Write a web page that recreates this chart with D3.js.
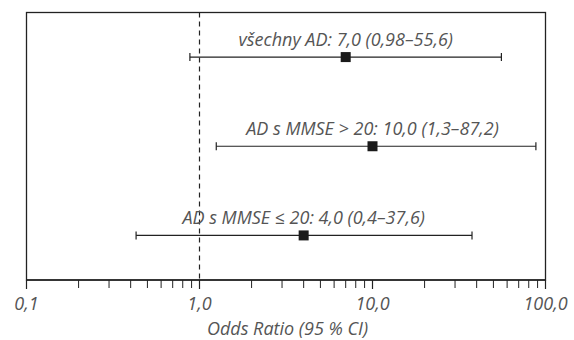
<!DOCTYPE html>
<html>
<head>
<meta charset="utf-8">
<script src="https://cdn.jsdelivr.net/npm/d3@7"></script>
<style>
    body { margin: 0; background: #fff; }
    text { font-family: "Open Sans", sans-serif; font-style: italic; fill: #555; }
</style>
</head>
<body>
<svg width="574" height="340"></svg>
<script>
// data
var groups = ["všechny AD", "AD s MMSE > 20", "AD s MMSE ≤ 20"];
var labels = ["všechny AD: 7,0 (0,98–55,6)", "AD s MMSE > 20: 10,0 (1,3–87,2)", "AD s MMSE ≤ 20: 4,0 (0,4–37,6)"];
var odds = [7.0, 10.0, 4.0];
var lower = [0.88, 1.25, 0.43];
var upper = [55.6, 88.0, 37.6];
var tickValues = [0.1, 1, 10, 100];
var tickLabels = ["0,1", "1,0", "10,0", "100,0"];

var margin = { top: 12.5, right: 28.5, bottom: 60, left: 26.5 },
    width = 574 - margin.left - margin.right,
    height = 340 - margin.top - margin.bottom;

var svg = d3.select("svg")
    .append("g")
    .attr("transform", "translate(" + margin.left + "," + margin.top + ")");

var x = d3.scaleLog().domain([0.1, 100]).range([0, width]);
var y = d3.scaleBand().domain(groups).range([0, height]);

// minor ticks
var minor = [];
[0.1, 1, 10].forEach(function(d) {
    for (var k = 2; k <= 9; k++) minor.push(d * k);
});

var data = groups.map(function(g, i) {
    return { group: g, label: labels[i], or: odds[i], lo: lower[i], hi: upper[i] };
});

// frame
svg.append("rect")
    .attr("width", width)
    .attr("height", height)
    .style("fill", "none")
    .style("stroke", "#222")
    .style("stroke-width", 1.3);

// reference line at OR = 1
svg.append("line")
    .attr("x1", x(1)).attr("x2", x(1))
    .attr("y1", 0).attr("y2", height)
    .style("stroke", "#222")
    .style("stroke-width", 1.2)
    .style("stroke-dasharray", "5,4");

// x axis
var axis = svg.append("g")
    .attr("transform", "translate(0," + height + ")");

axis.append("line")
    .attr("x1", 0).attr("x2", width)
    .style("stroke", "#222")
    .style("stroke-width", 1.3);

axis.selectAll(".minor")
    .data(minor)
    .enter().append("line")
    .attr("class", "minor")
    .attr("x1", function(d) { return x(d); })
    .attr("x2", function(d) { return x(d); })
    .attr("y1", 0).attr("y2", 8)
    .style("stroke", "#222")
    .style("stroke-width", 1);

axis.selectAll(".major")
    .data(tickValues)
    .enter().append("line")
    .attr("class", "major")
    .attr("x1", function(d) { return x(d); })
    .attr("x2", function(d) { return x(d); })
    .attr("y1", 0).attr("y2", 9)
    .style("stroke", "#222")
    .style("stroke-width", 1.2);

axis.selectAll(".tlabel")
    .data(tickValues)
    .enter().append("text")
    .attr("class", "tlabel")
    .attr("x", function(d) { return x(d); })
    .attr("y", 30)
    .attr("text-anchor", "middle")
    .style("font-size", "18px")
    .text(function(d, i) { return tickLabels[i]; });

svg.append("text")
    .attr("x", x(Math.sqrt(10) * 1.02))
    .attr("y", height + 55)
    .attr("text-anchor", "middle")
    .style("font-size", "18px")
    .text("Odds Ratio (95 % CI)");

// rows
var row = svg.selectAll(".row")
    .data(data)
    .enter().append("g")
    .attr("class", "row")
    .attr("transform", function(d) { return "translate(0," + (y(d.group) + y.bandwidth() / 2) + ")"; });

row.append("line")
    .attr("x1", function(d) { return x(d.lo); })
    .attr("x2", function(d) { return x(d.hi); })
    .style("stroke", "#222")
    .style("stroke-width", 1.2);

row.append("line")
    .attr("x1", function(d) { return x(d.lo); })
    .attr("x2", function(d) { return x(d.lo); })
    .attr("y1", -4).attr("y2", 4)
    .style("stroke", "#222")
    .style("stroke-width", 1.2);

row.append("line")
    .attr("x1", function(d) { return x(d.hi); })
    .attr("x2", function(d) { return x(d.hi); })
    .attr("y1", -4).attr("y2", 4)
    .style("stroke", "#222")
    .style("stroke-width", 1.2);

row.append("rect")
    .attr("x", function(d) { return x(d.or) - 5; })
    .attr("y", -5)
    .attr("width", 10)
    .attr("height", 10)
    .style("fill", "#1a1a1a");

row.append("text")
    .attr("x", function(d) { return x(d.or); })
    .attr("y", -11)
    .attr("text-anchor", "middle")
    .style("font-size", "18px")
    .text(function(d) { return d.label; });
</script>
</body>
</html>
